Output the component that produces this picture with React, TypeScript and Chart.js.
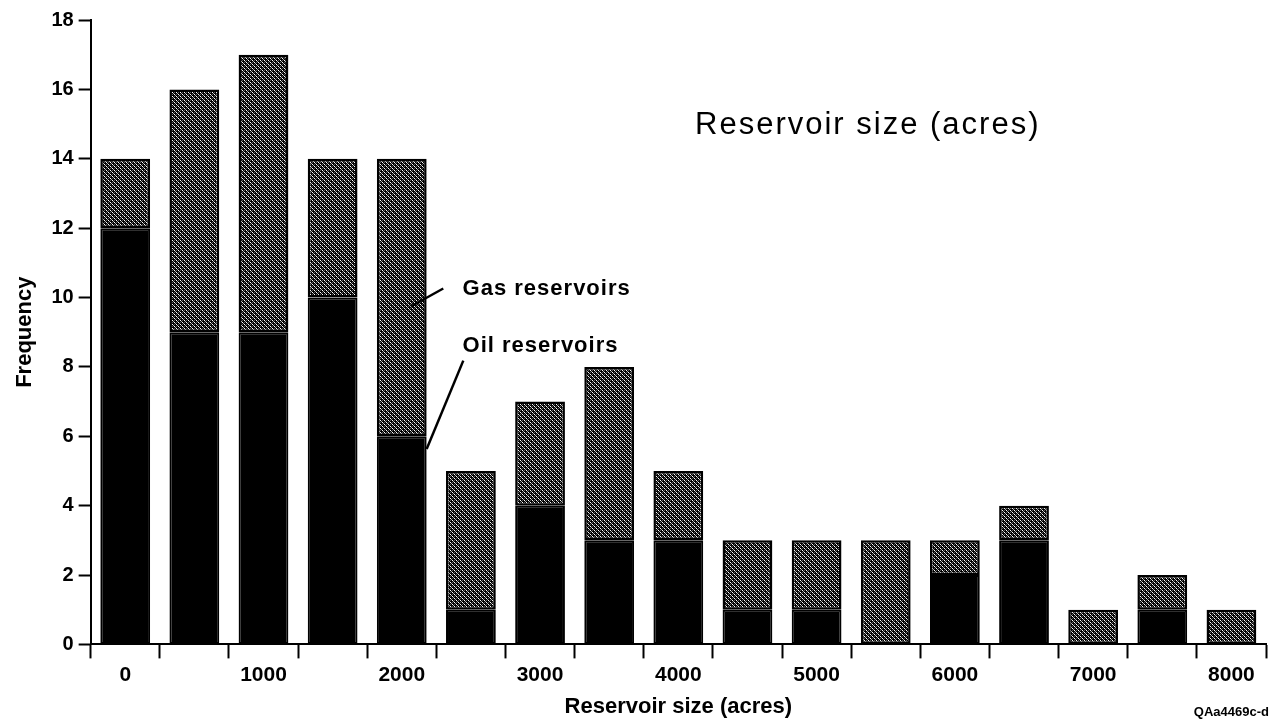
import React, { useEffect, useRef } from "react";
import { Chart, registerables } from "chart.js";

Chart.register(...registerables);

const categories = ["0", "500", "1000", "1500", "2000", "2500", "3000", "3500", "4000", "4500", "5000", "5500", "6000", "6500", "7000", "7500", "8000"];
const tickLabels = ["0", "", "1000", "", "2000", "", "3000", "", "4000", "", "5000", "", "6000", "", "7000", "", "8000"];
const oilValues = [12, 9, 9, 10, 6, 1, 4, 3, 3, 1, 1, 0, 2, 3, 0, 1, 0];
const gasValues = [2, 7, 8, 4, 8, 4, 3, 5, 2, 2, 2, 3, 1, 1, 1, 1, 1];
const yTicks = [0, 2, 4, 6, 8, 10, 12, 14, 16, 18];

// annotation anchors in data units (category index, frequency)
const gasLabel = { text: "Gas reservoirs", x: 4.88, y: 10.26 };
const gasLeader = [{ x: 4.6, y: 10.26 }, { x: 4.13, y: 9.74 }];
const oilLabel = { text: "Oil reservoirs", x: 4.88, y: 8.61 };
const oilLeader = [{ x: 4.89, y: 8.18 }, { x: 4.36, y: 5.63 }];
const insetTitle = { text: "Reservoir size (acres)", x: 10.74, y: 14.97 };
const figureId = "QAa4469c-d";

const FONT = "'Liberation Sans', Arial, Helvetica, sans-serif";

function makeStipple(): CanvasPattern | string {
  const c = document.createElement("canvas");
  c.width = 4;
  c.height = 4;
  const ctx = c.getContext("2d");
  if (!ctx) return "#555";
  ctx.fillStyle = "#000";
  ctx.fillRect(0, 0, 4, 4);
  ctx.fillStyle = "#fff";
  ctx.fillRect(0, 0, 1, 1);
  ctx.fillRect(2, 2, 1, 1);
  ctx.fillStyle = "#a8a8a8";
  ctx.fillRect(1, 1, 1, 1);
  ctx.fillRect(3, 3, 1, 1);
  ctx.fillStyle = "#5a5a5a";
  ctx.fillRect(2, 0, 1, 1);
  ctx.fillRect(0, 2, 1, 1);
  return ctx.createPattern(c, "repeat") || "#555";
}

const annotationPlugin = {
  id: "annotations",
  afterDraw(chart: any) {
    const ctx = chart.ctx;
    const xs = chart.scales.x;
    const ys = chart.scales.y;
    const px = (i: number) => {
      const a = xs.getPixelForValue(Math.floor(i));
      const b = xs.getPixelForValue(Math.floor(i) + 1);
      return a + (b - a) * (i - Math.floor(i));
    };
    const py = (v: number) => ys.getPixelForValue(v);
    ctx.save();
    ctx.fillStyle = "#000";
    ctx.strokeStyle = "#000";
    ctx.lineWidth = 2.5;
    ctx.textBaseline = "middle";
    ctx.textAlign = "left";
    ctx.font = `bold 22px ${FONT}`;
    (ctx as any).letterSpacing = "1px";
    ctx.fillText(gasLabel.text, px(gasLabel.x), py(gasLabel.y));
    ctx.fillText(oilLabel.text, px(oilLabel.x), py(oilLabel.y));
    for (const seg of [gasLeader, oilLeader]) {
      ctx.beginPath();
      ctx.moveTo(px(seg[0].x), py(seg[0].y));
      ctx.lineTo(px(seg[1].x), py(seg[1].y));
      ctx.stroke();
    }
    ctx.font = `31px ${FONT}`;
    (ctx as any).letterSpacing = "2px";
    ctx.textAlign = "center";
    ctx.fillText(insetTitle.text, px(insetTitle.x), py(insetTitle.y));
    ctx.font = `bold 13px ${FONT}`;
    (ctx as any).letterSpacing = "0px";
    ctx.textAlign = "right";
    ctx.fillText(figureId, chart.width - 6, chart.height - 12);
    ctx.restore();
  },
};

export default function App() {
  const ref = useRef<HTMLCanvasElement | null>(null);
  useEffect(() => {
    document.body.style.margin = "0";
    const canvas = ref.current;
    if (!canvas) return;
    const stipple = makeStipple();
    const chart = new Chart(canvas, {
      type: "bar",
      data: {
        labels: categories,
        datasets: [
          {
            label: "Oil reservoirs",
            data: oilValues,
            backgroundColor: "#000",
            borderColor: "#000",
            borderWidth: 2,
            borderSkipped: false,
            barPercentage: 0.72,
            categoryPercentage: 1,
          },
          {
            label: "Gas reservoirs",
            data: gasValues,
            backgroundColor: stipple as any,
            borderColor: "#000",
            borderWidth: 2.5,
            borderSkipped: false,
            barPercentage: 0.72,
            categoryPercentage: 1,
          },
        ],
      },
      options: {
        responsive: false,
        animation: false,
        layout: { padding: { top: 20, right: 9, left: 12, bottom: 4 } },
        plugins: { legend: { display: false }, tooltip: { enabled: false } },
        scales: {
          x: {
            stacked: true,
            offset: true,
            grid: { offset: true, drawOnChartArea: false, tickLength: 14, tickWidth: 2, tickColor: "#000", color: "#000" },
            border: { color: "#000", width: 2 },
            ticks: {
              color: "#000",
              font: { family: FONT, size: 21, weight: "bold" },
              padding: 4,
              autoSkip: false,
              maxRotation: 0,
              callback: (_v: any, i: number) => tickLabels[i],
            },
            title: {
              display: true,
              text: "Reservoir size (acres)",
              color: "#000",
              font: { family: FONT, size: 22, weight: "bold" },
              padding: { top: 2, bottom: 0 },
            },
          },
          y: {
            stacked: true,
            min: 0,
            max: 18,
            afterBuildTicks: (axis: any) => {
              axis.ticks = yTicks.map((v) => ({ value: v }));
            },
            grid: { drawOnChartArea: false, tickLength: 12, tickWidth: 2, tickColor: "#000", color: "#000" },
            border: { color: "#000", width: 2 },
            ticks: {
              color: "#000",
              font: { family: FONT, size: 20, weight: "bold" },
              padding: 5,
            },
            title: {
              display: true,
              text: "Frequency",
              color: "#000",
              font: { family: FONT, size: 22, weight: "bold" },
              padding: { top: 0, bottom: 8 },
            },
          },
        },
      },
      plugins: [annotationPlugin],
    });
    return () => chart.destroy();
  }, []);
  return (
    <div style={{ position: "fixed", left: 0, top: 0, width: 1275, height: 724, background: "#fff" }}>
      <canvas ref={ref} width={1275} height={724} style={{ width: 1275, height: 724, display: "block" }} />
    </div>
  );
}
